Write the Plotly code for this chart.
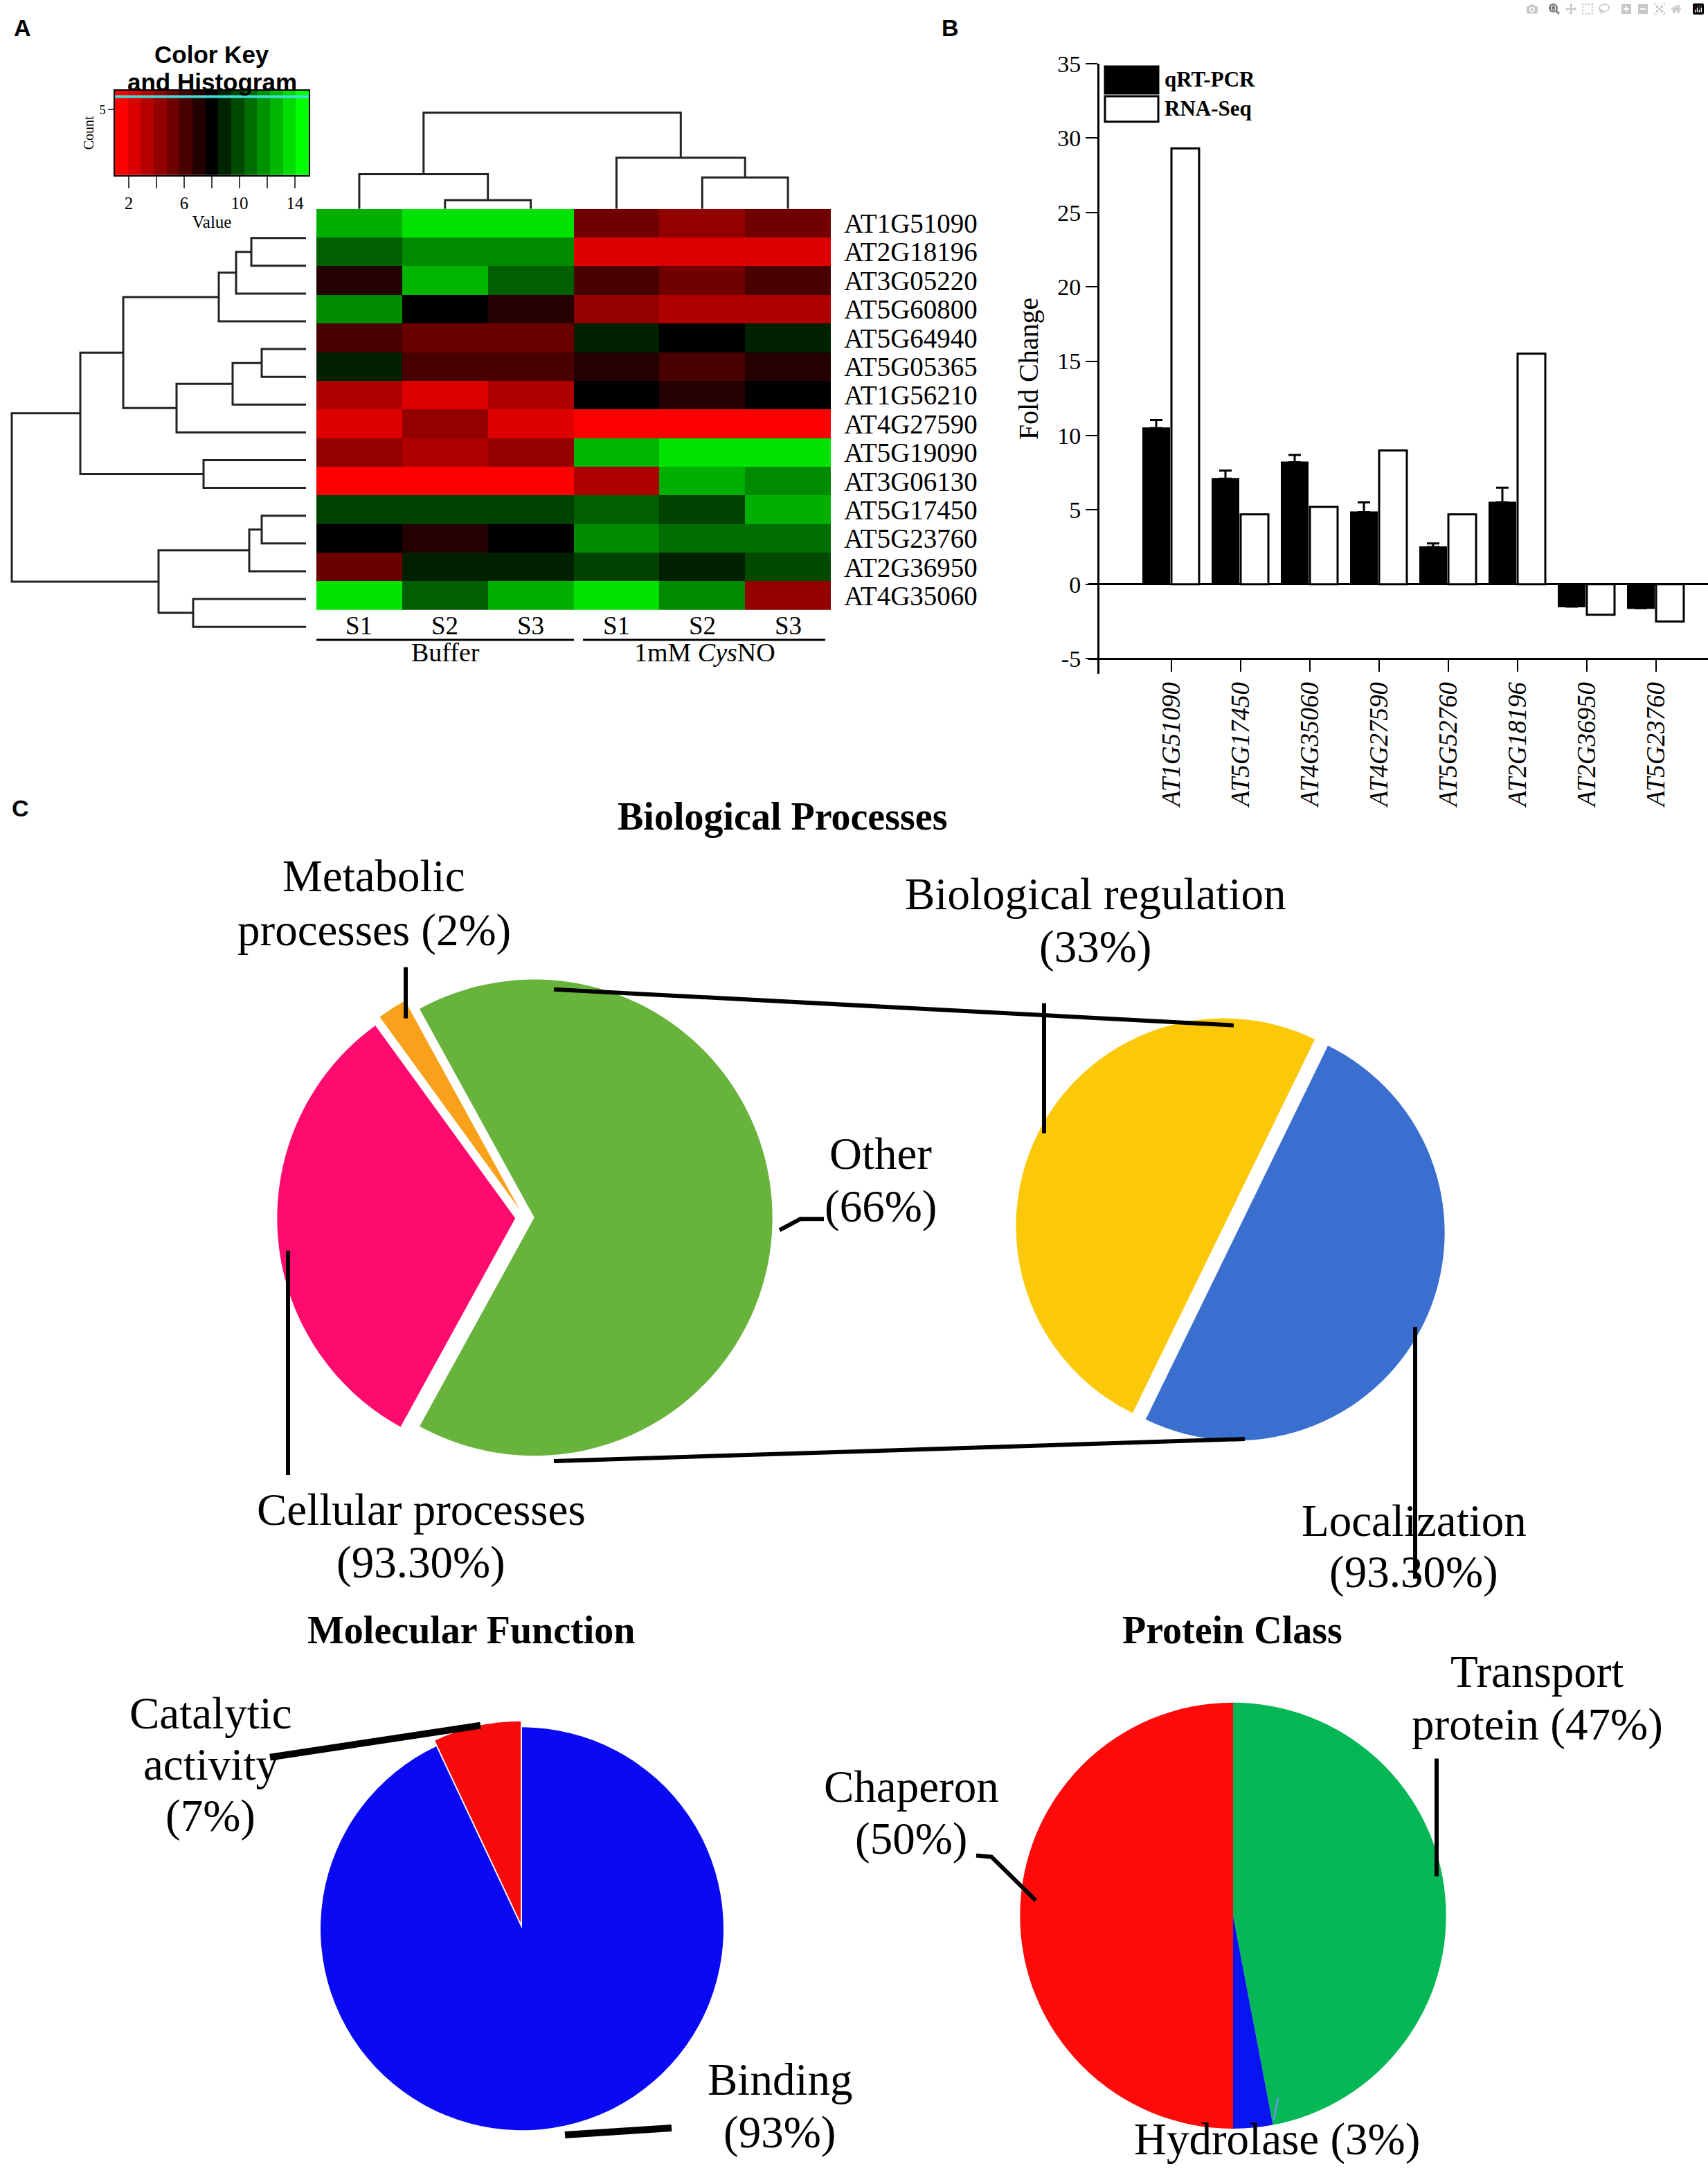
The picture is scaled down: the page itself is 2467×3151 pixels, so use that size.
import plotly.graph_objects as go

W, H = 2467, 3151
SERIF = "Liberation Serif"
SANS = "Liberation Sans"

# ---------------- Panel A data ----------------
heat_genes = ["AT1G51090", "AT2G18196", "AT3G05220", "AT5G60800", "AT5G64940",
              "AT5G05365", "AT1G56210", "AT4G27590", "AT5G19090", "AT3G06130",
              "AT5G17450", "AT5G23760", "AT2G36950", "AT4G35060"]
heat_samples = ["S1", "S2", "S3", "S1", "S2", "S3"]
heat_values = [
    [12.8, 14.2, 14.2, 4.9, 4.0, 4.9],
    [10.6, 11.8, 11.8, 1.9, 1.9, 1.9],
    [7.0, 13.0, 10.6, 6.0, 4.9, 6.0],
    [11.8, 8.0, 7.0, 4.0, 3.2, 3.2],
    [6.0, 5.1, 5.1, 8.9, 8.0, 8.9],
    [8.9, 6.0, 6.0, 7.0, 6.0, 7.0],
    [3.2, 1.9, 3.2, 8.0, 7.0, 8.0],
    [1.9, 4.0, 1.9, 1.0, 1.0, 1.0],
    [4.0, 3.2, 4.0, 13.0, 14.2, 14.2],
    [1.0, 1.0, 1.0, 3.2, 12.8, 11.8],
    [9.8, 9.8, 9.8, 10.6, 9.8, 12.8],
    [8.0, 7.0, 8.0, 11.8, 11.0, 11.0],
    [5.1, 8.9, 8.9, 9.8, 8.9, 10.0],
    [14.2, 10.6, 12.8, 14.2, 11.8, 4.0],
]
key_levels = [1, 2, 3, 4, 5, 6, 7, 8, 9, 10, 11, 12, 13, 14, 15]
key_hist = [6.0, 6.0, 6.0, 6.0, 6.0, 6.0, 6.0, 6.0, 6.0, 6.0, 6.0, 6.0, 6.0, 6.0, 6.0]
# dendrogram merges: (left, right, height)
col_merges = [(1, 2, 13), (0, 6, 51), (4, 5, 46), (3, 8, 75), (7, 9, 141)]
row_leaves = 15
row_merges = [(0, 1, 79), (15, 2, 101), (16, 3, 126), (4, 5, 64), (18, 6, 106),
              (19, 7, 187), (17, 20, 264), (8, 9, 148), (21, 22, 326), (10, 11, 64),
              (24, 12, 82), (13, 14, 163), (25, 26, 213), (23, 27, 425)]

# ---------------- Panel B data ----------------
bar_genes = ["AT1G51090", "AT5G17450", "AT4G35060", "AT4G27590",
             "AT5G52760", "AT2G18196", "AT2G36950", "AT5G23760"]
qrt_pcr = [10.5, 7.1, 8.2, 4.85, 2.5, 5.5, -1.5, -1.6]
qrt_err = [0.55, 0.55, 0.5, 0.65, 0.25, 1.0, None, None]
rna_seq = [29.3, 4.7, 5.2, 9.0, 4.7, 15.5, -2.05, -2.5]
y_ticks = [-5, 0, 5, 10, 15, 20, 25, 30, 35]

# ---------------- Panel C data ----------------
bp_labels = ["Other", "Cellular processes", "Metabolic processes"]
bp_values = [66, 32, 2]
bp_colors = ["#67B33C", "#FF0A6E", "#F9A11B"]
sub_labels = ["Localization", "Biological regulation"]
sub_values = [33, 33]
sub_colors = ["#3A6ECF", "#FBC90A"]
mf_labels = ["Binding", "Catalytic activity"]
mf_values = [93, 7]
mf_colors = ["#0A0AF2", "#F70A0A"]
pc_labels = ["Transport protein", "Hydrolase", "Chaperon"]
pc_values = [47, 3, 50]
pc_colors = ["#06B755", "#0A14F0", "#FF0A0A"]

# vertical calibration of the rendered page
TOP = 16.0


def px(x):
    return x / W


def py(y):
    ys = (y - TOP) / (1 - TOP / H)
    return 1 - ys / H


def dendro(n, merges):
    pos = {i: float(i) for i in range(n)}
    hgt = {i: 0.0 for i in range(n)}
    a_s, h_s = [], []
    for k, (a, b, h) in enumerate(merges):
        a_s += [pos[a], pos[a], pos[b], pos[b], None]
        h_s += [hgt[a], h, h, hgt[b], None]
        pos[n + k] = (pos[a] + pos[b]) / 2
        hgt[n + k] = h
    return a_s, h_s


fig = go.Figure()
RG = [[0, "#FF0000"], [0.5, "#000000"], [1, "#00FF00"]]

# heatmap
fig.add_trace(go.Heatmap(z=heat_values, x=list(range(6)), y=list(range(len(heat_genes))),
                         colorscale=RG, zmin=1, zmax=15, showscale=False,
                         xaxis="x", yaxis="y"))
# column dendrogram
cx, cy = dendro(6, col_merges)
fig.add_trace(go.Scatter(x=cx, y=cy, mode="lines", line=dict(color="#222", width=3),
                         xaxis="x2", yaxis="y2", hoverinfo="skip"))
# row dendrogram
ry, rx = dendro(row_leaves, row_merges)
fig.add_trace(go.Scatter(x=rx, y=ry, mode="lines", line=dict(color="#222", width=3),
                         xaxis="x3", yaxis="y3", hoverinfo="skip"))
# colour key
kw = 14 / len(key_levels)
key_centers = [1 + (i + 0.5) * kw for i in range(len(key_levels))]
key_edges = [1 + i * kw for i in range(len(key_levels) + 1)]
fig.add_trace(go.Heatmap(z=[key_levels, key_levels], x=key_centers, y=[0, 6.46],
                         colorscale=RG, zmin=1, zmax=15, showscale=False,
                         xaxis="x4", yaxis="y4", hoverinfo="skip"))
fig.add_trace(go.Scatter(x=key_edges, y=key_hist + [key_hist[-1]], mode="lines",
                         line=dict(color="#3FE0D8", width=4, shape="hv"),
                         xaxis="x4", yaxis="y4", hoverinfo="skip"))

# bars
xs = list(range(len(bar_genes)))
fig.add_trace(go.Bar(x=xs, y=qrt_pcr, width=0.38, offset=-0.41, name="qRT-PCR",
                     marker=dict(color="black", line=dict(color="black", width=2)),
                     error_y=dict(type="data", array=qrt_err,
                                  arrayminus=[0] * len(qrt_err), symmetric=False,
                                  color="black", thickness=3, width=9),
                     xaxis="x5", yaxis="y5"))
fig.add_trace(go.Bar(x=xs, y=rna_seq, width=0.4, offset=0.0, name="RNA-Seq",
                     marker=dict(color="white", line=dict(color="black", width=3)),
                     xaxis="x5", yaxis="y5"))


# pies
def pie(labels, values, colors, cx_, cy_, half, rotation, pull):
    return go.Pie(labels=labels, values=values, sort=False, direction="clockwise",
                  rotation=rotation, pull=pull, textinfo="none",
                  marker=dict(colors=colors, line=dict(width=0)),
                  domain=dict(x=[px(cx_ - half), px(cx_ + half)],
                              y=[py(cy_ + half), py(cy_ - half)]))


fig.add_trace(pie(bp_labels, bp_values, bp_colors, 758, 1758, 358, -28.8, [0.04, 0.04, 0.04]))
fig.add_trace(pie(sub_labels, sub_values, sub_colors, 1777, 1775, 311, 26, [0.035, 0.035]))
fig.add_trace(pie(mf_labels, mf_values, mf_colors, 754, 2786, 300, 0, [0, 0.03]))
fig.add_trace(pie(pc_labels, pc_values, pc_colors, 1781, 2767, 308, 0, [0, 0, 0]))

hidden = dict(visible=False, showgrid=False, zeroline=False)

annotations = []


def ann(text, x, y, size, family=SERIF, xanchor="center", **kw):
    annotations.append(dict(text=text, x=px(x), y=py(y), xref="paper", yref="paper",
                            showarrow=False, xanchor=xanchor, yanchor="middle",
                            font=dict(family=family, size=size, color="black"), **kw))


def label(lines, x, ys, size=65):
    for t, y in zip(lines, ys):
        ann(t, x, y, size)


# panel letters
ann("<b>A</b>", 32, 38, 34, SANS)
ann("<b>B</b>", 1372, 38, 34, SANS)
ann("<b>C</b>", 30, 1166, 34, SANS)
# colour key title
ann("<b>Color Key</b>", 306, 77, 35, SANS)
ann("<b>and Histogram</b>", 306, 117, 35, SANS)
# heatmap column labels
for i, s in enumerate(heat_samples):
    annotations.append(dict(text=s, x=i, y=py(902), xref="x", yref="paper", showarrow=False,
                            yanchor="middle", xanchor="center",
                            font=dict(family=SERIF, size=37, color="black")))
ann("Buffer", 644, 941, 38)
ann("1mM <i>Cys</i>NO", 1018, 941, 38)
# bar legend text
ann("<b>qRT-PCR</b>", 1680, 113, 31, xanchor="left")
ann("<b>RNA-Seq</b>", 1680, 155, 31, xanchor="left")
# panel C titles
ann("<b>Biological Processes</b>", 1130, 1178, 56)
ann("<b>Molecular Function</b>", 680, 2354, 56)
ann("<b>Protein Class</b>", 1780, 2354, 56)
# pie labels
label(["Metabolic", "processes (2%)"], 540, [1264, 1342])
label(["Biological regulation", "(33%)"], 1582, [1290, 1366])
label(["Other", "(66%)"], 1272, [1666, 1742])
label(["Cellular processes", "(93.30%)"], 608, [2180, 2256])
label(["Localization", "(93.30%)"], 2042, [2196, 2270])
label(["Catalytic", "activity", "(7%)"], 304, [2474, 2548, 2622])
label(["Binding", "(93%)"], 1126, [3004, 3080])
label(["Chaperon", "(50%)"], 1316, [2580, 2656])
label(["Transport", "protein (47%)"], 2220, [2414, 2490])
label(["Hydrolase (3%)"], 1844, [3090])

shapes = []


def path(pts, width=6, color="black"):
    d = "M " + " L ".join(f"{px(x):.5f},{py(y):.5f}" for x, y in pts)
    shapes.append(dict(type="path", path=d, xref="paper", yref="paper",
                       line=dict(color=color, width=width)))


# heatmap group underlines
path([(457, 923), (829, 923)], 3)
path([(842, 923), (1192, 923)], 3)
# bar legend boxes
shapes.append(dict(type="rect", xref="paper", yref="paper", x0=px(1596), x1=px(1673),
                   y0=py(133), y1=py(94), fillcolor="black", line=dict(color="black", width=3)))
shapes.append(dict(type="rect", xref="paper", yref="paper", x0=px(1596), x1=px(1673),
                   y0=py(174), y1=py(137), fillcolor="white", line=dict(color="black", width=3)))
# pie connectors and leader lines
path([(800, 1428), (1782, 1480)], 6)
path([(800, 2110), (1798, 2078)], 6)
path([(586, 1396), (586, 1470)], 6)
path([(416, 1806), (416, 2130)], 6)
path([(1126, 1776), (1156, 1760), (1190, 1760)], 6)
path([(1508, 1448), (1508, 1636)], 6)
path([(2044, 1916), (2044, 2280)], 6)
path([(694, 2492), (390, 2538)], 10)
path([(816, 3084), (970, 3074)], 10)
path([(1410, 2680), (1432, 2682), (1496, 2745)], 6)
path([(2075, 2540), (2075, 2710)], 6)
path([(1846, 3030), (1840, 3062)], 3, "#5B9BD5")

fig.update_layout(
    width=W, height=H, margin=dict(l=0, r=0, t=0, b=0),
    paper_bgcolor="white", plot_bgcolor="rgba(0,0,0,0)", showlegend=False,
    annotations=annotations, shapes=shapes,
    font=dict(family=SERIF, color="black"),
    # heatmap
    xaxis=dict(domain=[px(457), px(1200)], range=[-0.5, 5.5], visible=False),
    yaxis=dict(domain=[py(880), py(300)], range=[13.5, -0.5], side="right",
               tickvals=list(range(len(heat_genes))), ticktext=heat_genes,
               tickfont=dict(family=SERIF, size=39, color="black"), ticks="",
               showgrid=False, zeroline=False, showline=False, ticklabelstandoff=18),
    # column dendrogram
    xaxis2=dict(domain=[px(457), px(1200)], range=[-0.5, 5.5], anchor="y2", **hidden),
    yaxis2=dict(domain=[py(300), py(148)], range=[0, 154], anchor="x2", **hidden),
    # row dendrogram
    xaxis3=dict(domain=[px(12), px(447)], range=[430, -5], anchor="y3", **hidden),
    yaxis3=dict(domain=[py(912), py(334)], range=[14.2, -0.2], anchor="x3", **hidden),
    # colour key
    xaxis4=dict(domain=[px(166), px(446)], range=[1, 15], anchor="y4",
                tickvals=[2, 4, 6, 8, 10, 12, 14], ticktext=["2", "", "6", "", "10", "", "14"],
                ticks="outside", ticklen=17, tickwidth=2, showline=True, mirror=True,
                linecolor="black", linewidth=2, showgrid=False, zeroline=False,
                tickfont=dict(family=SERIF, size=25, color="black"),
                title=dict(text="Value", font=dict(family=SERIF, size=25), standoff=0)),
    yaxis4=dict(domain=[py(251), py(129)], range=[0, 6.46], anchor="x4",
                tickvals=[5], ticks="outside", ticklen=8, tickwidth=2, showline=True,
                mirror=True, linecolor="black", linewidth=2, showgrid=False, zeroline=False,
                tickfont=dict(family=SERIF, size=18, color="black"),
                title=dict(text="Count", font=dict(family=SERIF, size=20), standoff=2)),
    # bar chart
    xaxis5=dict(domain=[px(1572), 1], range=[-1.2, 7.75], anchor="free", position=py(950),
                tickvals=xs, ticktext=bar_genes, tickangle=-90, ticks="outside",
                ticklen=17, tickwidth=2, tickcolor="black", showline=True,
                linecolor="black", linewidth=3, showgrid=False, zeroline=False,
                tickfont=dict(family=SERIF, size=37, color="black", style="italic")),
    yaxis5=dict(domain=[py(972), py(90)], range=[-6.02, 35], anchor="free", position=px(1586),
                tickvals=y_ticks, ticktext=[str(v) for v in y_ticks], ticks="outside",
                ticklen=17, tickwidth=2, tickcolor="black", showline=True,
                linecolor="black", linewidth=3, showgrid=False, zeroline=True,
                zerolinecolor="black", zerolinewidth=3,
                tickfont=dict(family=SERIF, size=34, color="black"),
                title=dict(text="Fold Change", font=dict(family=SERIF, size=40), standoff=14)),
)

fig.write_html("out.html", post_script="document.body.style.margin='0';")
